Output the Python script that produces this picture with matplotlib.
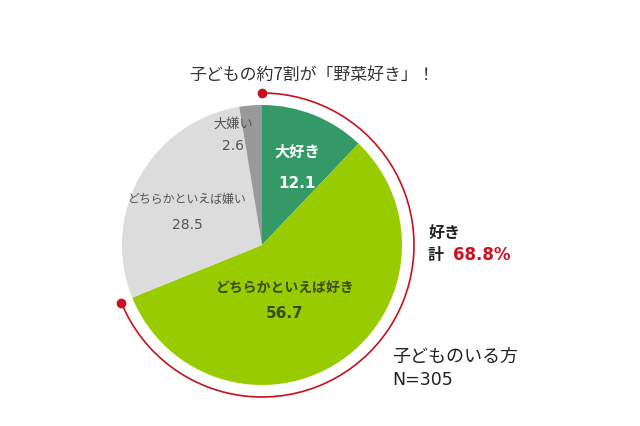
import numpy as np
import matplotlib.pyplot as plt
from matplotlib.patches import Arc

plt.rcParams['font.family'] = ['Noto Sans CJK JP', 'DejaVu Sans']
NUM = ['DejaVu Sans', 'Noto Sans CJK JP']  # wider digits, like the original

# pie data (start at top, clockwise)
labels = ['大好き', 'どちらかといえば好き', 'どちらかといえば嫌い', '大嫌い']
values = [12.1, 56.7, 28.5, 2.6]
colors = ['#339966', '#99cc00', '#dcdcdc', '#999999']
like_total = 68.8
n_total = 305

W, H = 640, 426
fig = plt.figure(figsize=(6.4, 4.26), dpi=100)
ax = fig.add_axes([0, 0, 1, 1])

cx, cy, r = 262, H - 245, 140
ax.pie(values, colors=colors, startangle=90, counterclock=False,
       center=(cx, cy), radius=r, frame=True,
       wedgeprops=dict(linewidth=0))
ax.set_xlim(0, W)
ax.set_ylim(0, H)
ax.set_aspect('equal')
ax.axis('off')

# red arc for "like" share
ra = 152
end_ang = 90 - 360 * like_total / 100
ax.add_patch(Arc((cx, cy), 2 * ra, 2 * ra, theta1=end_ang, theta2=90,
                 color='#c8101e', lw=1.2))
for a in (90, end_ang):
    t = np.deg2rad(a)
    ax.plot(cx + ra * np.cos(t), cy + ra * np.sin(t), 'o', color='#c8101e', ms=6)

ax.text(312, H - 75, '子どもの約7割が「野菜好き」！', ha='center', va='center',
        fontsize=12.2, color='#333333')

# slice labels
ax.text(297, H - 152, labels[0], ha='center', va='center', fontsize=11,
        color='white', fontweight='bold')
ax.text(297, H - 184, f'{values[0]}', ha='center', va='center', fontsize=11,
        color='white', fontweight='bold', family=NUM)
ax.text(285, H - 288, labels[1], ha='center', va='center', fontsize=10,
        color='#3a4a10', fontweight='bold')
ax.text(285, H - 314, f'{values[1]}', ha='center', va='center', fontsize=11,
        color='#3a4a10', fontweight='bold', family=NUM)
ax.text(187, H - 199, labels[2], ha='center', va='center', fontsize=8.6,
        color='#555555')
ax.text(187, H - 225, f'{values[2]}', ha='center', va='center', fontsize=10,
        color='#555555', family=NUM)
ax.text(233, H - 124, labels[3], ha='center', va='center', fontsize=9.5,
        color='#555555')
ax.text(233, H - 146, f'{values[3]}', ha='center', va='center', fontsize=10,
        color='#555555', family=NUM)

# right side annotations
ax.text(428, H - 233, '好き', ha='left', va='center', fontsize=11.5,
        color='#222222', fontweight='bold')
ax.text(428, H - 255, '計', ha='left', va='center', fontsize=11.5,
        color='#222222', fontweight='bold')
ax.text(453, H - 255, f'{like_total}%', ha='left', va='center', fontsize=12,
        color='#cc1122', fontweight='bold', family=NUM)
ax.text(392, H - 357, '子どものいる方', ha='left', va='center', fontsize=13,
        color='#222222')
ax.text(392, H - 380, f'N={n_total}', ha='left', va='center', fontsize=12.5,
        color='#222222', family=NUM)

fig.savefig('out.png', dpi=100)
